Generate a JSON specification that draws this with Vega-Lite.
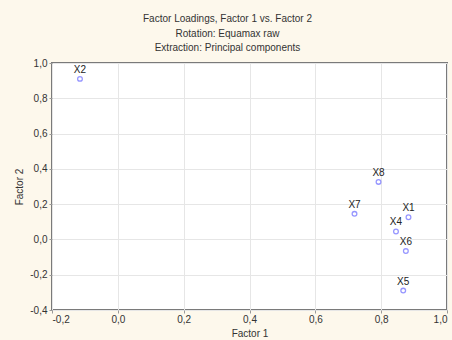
{
  "$schema": "https://vega.github.io/schema/vega-lite/v6.json",
  "width": 395,
  "height": 247,
  "autosize": {"type": "none"},
  "padding": {"left": 52, "top": 63, "right": 5, "bottom": 30},
  "background": "#fdf8ec",
  "title": {
    "text": ["Factor Loadings, Factor 1 vs. Factor 2", "Rotation: Equamax raw", "Extraction: Principal components"],
    "anchor": "middle",
    "frame": "group",
    "dx": -22,
    "fontSize": 10,
    "fontWeight": "normal",
    "font": "Liberation Sans",
    "color": "#333333",
    "lineHeight": 14.3,
    "offset": 5
  },
  "config": {
    "view": {"fill": "white", "stroke": "#7a7a7a", "strokeWidth": 2},
    "axis": {
      "labelFont": "Liberation Sans",
      "titleFont": "Liberation Sans",
      "labelFontSize": 10,
      "titleFontSize": 10,
      "titleFontWeight": "normal",
      "labelColor": "#333333",
      "titleColor": "#333333",
      "gridColor": "#e6e6e6",
      "gridWidth": 1,
      "domain": false,
      "tickColor": "#999999",
      "tickSize": 3,
      "labelExpr": "replace(replace(format(datum.value, '.1f'), '.', ','), '\u2212', '-')"
    }
  },
  "data": {
    "values": [
      {"name": "X1", "f1": 0.883, "f2": 0.126},
      {"name": "X2", "f1": -0.115, "f2": 0.91},
      {"name": "X4", "f1": 0.845, "f2": 0.045},
      {"name": "X5", "f1": 0.867, "f2": -0.29},
      {"name": "X6", "f1": 0.875, "f2": -0.066},
      {"name": "X7", "f1": 0.719, "f2": 0.145},
      {"name": "X8", "f1": 0.792, "f2": 0.326}
    ]
  },
  "encoding": {
    "x": {
      "field": "f1", "type": "quantitative",
      "scale": {"domain": [-0.2, 1.0], "nice": false, "zero": false},
      "axis": {"values": [-0.2, 0, 0.2, 0.4, 0.6, 0.8, 1.0], "title": "Factor 1", "titlePadding": 4, "labelPadding": 1}
    },
    "y": {
      "field": "f2", "type": "quantitative",
      "scale": {"domain": [-0.4, 1.0], "nice": false, "zero": false},
      "axis": {"values": [-0.4, -0.2, 0, 0.2, 0.4, 0.6, 0.8, 1.0], "title": "Factor 2", "titlePadding": 5, "labelPadding": 2}
    }
  },
  "layer": [
    {
      "mark": {"type": "point", "shape": "circle", "filled": false, "color": "#6b6bff", "size": 22, "strokeWidth": 1.3}
    },
    {
      "mark": {"type": "text", "dy": -9, "baseline": "middle", "align": "center", "font": "Liberation Sans", "fontSize": 10, "color": "#222222"},
      "encoding": {"text": {"field": "name"}}
    }
  ]
}
